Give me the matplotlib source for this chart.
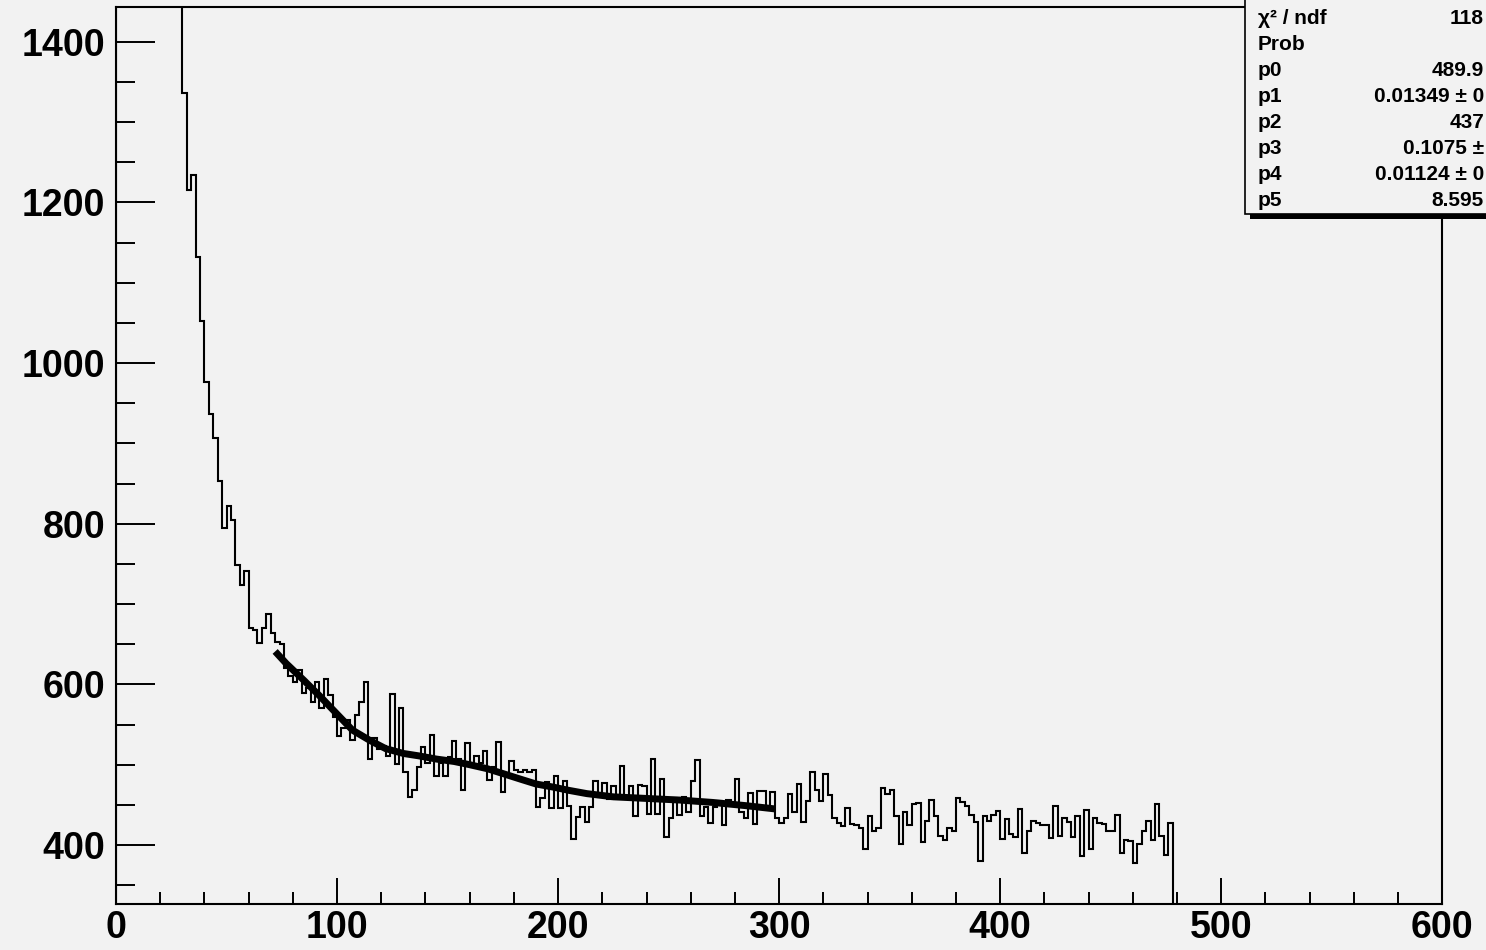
import numpy as np
import matplotlib
matplotlib.use("Agg")
import matplotlib.pyplot as plt
from matplotlib.ticker import MultipleLocator

# histogram: 2-unit bins from 0 to 480 (first bins are above the frame)
bin_lo = 0
bin_hi = 480
bin_w = 2
counts = [
    4100, 3650, 3300, 3000, 2760, 2540, 2360, 2200, 2060, 1930,
    1820, 1720, 1630, 1550, 1480, 1336, 1215, 1234, 1132, 1052,
    976, 937, 907, 853, 795, 822, 805, 748, 724, 741,
    670, 668, 652, 670, 688, 664, 653, 650, 621, 610,
    603, 618, 589, 596, 578, 603, 571, 607, 587, 560,
    536, 546, 556, 531, 562, 578, 603, 507, 533, 520,
    523, 511, 588, 501, 570, 491, 460, 468, 497, 522,
    502, 537, 486, 502, 486, 510, 530, 507, 468, 527,
    502, 511, 502, 517, 481, 497, 528, 466, 485, 505,
    493, 491, 493, 491, 493, 447, 458, 479, 446, 486,
    446, 480, 448, 408, 435, 447, 429, 447, 480, 460,
    477, 457, 474, 460, 499, 460, 474, 436, 475, 473,
    439, 507, 439, 482, 410, 434, 458, 438, 460, 441,
    480, 506, 436, 447, 428, 447, 455, 425, 456, 452,
    482, 441, 434, 465, 426, 467, 467, 446, 466, 434,
    428, 434, 463, 441, 476, 429, 455, 491, 469, 455,
    488, 462, 434, 428, 424, 446, 426, 425, 421, 395,
    436, 418, 421, 471, 463, 468, 436, 401, 441, 425,
    451, 452, 404, 430, 456, 436, 411, 406, 421, 417,
    459, 453, 448, 437, 429, 380, 436, 430, 438, 442,
    407, 432, 414, 410, 445, 390, 417, 430, 428, 425,
    425, 409, 448, 411, 434, 429, 410, 436, 386, 444,
    395, 434, 428, 426, 417, 417, 437, 390, 406, 405,
    378, 401, 417, 430, 406, 451, 411, 387, 428, 0,
]

# fit curve
fit_x = [72, 77, 85, 92, 100, 107, 115, 122, 130, 137, 145, 153, 160,
         168, 175, 183, 190, 198, 205, 213, 225, 240, 255, 270, 285, 298]
fit_y = [641, 626, 605, 586, 563, 543, 530, 520, 514, 511, 507, 504, 500,
         495, 489, 482, 476, 472, 468, 464, 460, 458, 456, 453, 449, 445]

# stat box rows (only the part that is visible inside the canvas)
stat_names = ["χ² / ndf", "Prob", "p0", "p1", "p2", "p3", "p4", "p5"]
stat_vals = ["118", "", "489.9", "0.01349 ± 0", "437", "0.1075 ±",
             "0.01124 ± 0", "8.595"]

bg = "#f2f2f2"
plt.rcParams["font.family"] = ["Liberation Sans", "DejaVu Sans"]
plt.rcParams["font.weight"] = "bold"

fig = plt.figure(figsize=(14.86, 9.5), dpi=100, facecolor=bg)
ax = fig.add_axes([116 / 1486, 46 / 950, 1326.3 / 1486, 897.3 / 950])
ax.set_facecolor(bg)

edges = np.arange(bin_lo, bin_hi + bin_w, bin_w)
ax.stairs(counts, edges, baseline=0, color="black", linewidth=1.5)
ax.plot(fit_x, fit_y, color="black", linewidth=5, solid_capstyle="butt")

ax.set_xlim(0, 600)
ax.set_ylim(326.6, 1443.6)

ax.xaxis.set_major_locator(MultipleLocator(100))
ax.xaxis.set_minor_locator(MultipleLocator(20))
ax.yaxis.set_major_locator(MultipleLocator(200))
ax.yaxis.set_minor_locator(MultipleLocator(50))
ax.tick_params(axis="x", which="major", direction="in", length=19, width=1.4,
               labelsize=27, pad=4)
ax.tick_params(axis="x", which="minor", direction="in", length=9, width=1.4)
ax.tick_params(axis="y", which="major", direction="in", length=28, width=1.4,
               labelsize=27, pad=8)
ax.tick_params(axis="y", which="minor", direction="in", length=14, width=1.4)
for lab in ax.get_xticklabels() + ax.get_yticklabels():
    lab.set_fontweight("bold")
for sp in ax.spines.values():
    sp.set_linewidth(1.5)

# stat box, runs past the right edge of the canvas
W, H = 1486, 950
box_l, box_b = 1245, 214
fig.patches.append(plt.Rectangle((box_l / W + 5 / W, (H - box_b - 5) / H), 400 / W, 6 / H,
                                 transform=fig.transFigure, facecolor="black",
                                 edgecolor="none", zorder=5))
fig.patches.append(plt.Rectangle((box_l / W, (H - box_b) / H), 400 / W, (box_b + 20) / H,
                                 transform=fig.transFigure, facecolor=bg,
                                 edgecolor="black", linewidth=1.2, zorder=6))
row_y = [19, 45, 70, 97, 122, 148, 175, 201]
for name, val, ry in zip(stat_names, stat_vals, row_y):
    fig.text(1258 / W, 1 - ry / H, name, fontsize=15, fontweight="bold",
             va="center", ha="left", zorder=7)
    if val:
        fig.text(1484 / W, 1 - ry / H, val, fontsize=15, fontweight="bold",
                 va="center", ha="right", zorder=7)

fig.savefig("out.png", dpi=100, facecolor=bg)
